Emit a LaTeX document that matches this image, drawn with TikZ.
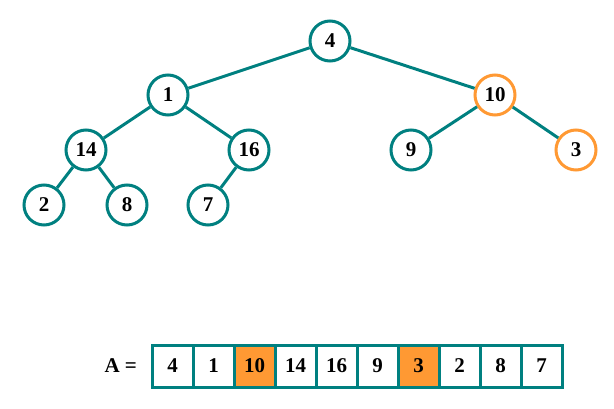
\documentclass[tikz,border=0pt]{standalone}
\usepackage{fontspec}
\setmainfont{Liberation Serif}
\usetikzlibrary{positioning}

\definecolor{heapteal}{RGB}{0,128,128}
\definecolor{heaporange}{RGB}{255,153,51}

\begin{document}
\begin{tikzpicture}[
    x=1pt, y=-1pt,
    font=\fontsize{21}{24}\selectfont\bfseries,
    key/.style={draw=heapteal, circle, line width=3pt, minimum size=40pt, inner sep=0pt, fill=white}, % Style for tree nodes
    hot/.style={draw=heaporange}, % Nodes being swapped
    cell/.style={draw=heapteal, line width=3pt, minimum width=41pt, minimum height=42pt, inner sep=0pt}, % Style for array cells
    edge/.style={heapteal, line width=3pt}
]
\useasboundingbox (0,0) rectangle (614,409);

% Tree nodes
\node[key] (n4) at (330,41) {4};
\node[key] (n1) at (168,95) {1};
\node[key, hot] (n10) at (495,95) {10};
\node[key] (n14) at (86,150) {14};
\node[key] (n16) at (249,150) {16};
\node[key] (n9) at (411,150) {9};
\node[key, hot] (n3) at (576,150) {3};
\node[key] (n2) at (44,205) {2};
\node[key] (n8) at (127,205) {8};
\node[key] (n7) at (208,205) {7};

% Edges
\draw[edge] (n4) -- (n1);
\draw[edge] (n4) -- (n10);
\draw[edge] (n1) -- (n14);
\draw[edge] (n1) -- (n16);
\draw[edge] (n10) -- (n9);
\draw[edge] (n10) -- (n3);
\draw[edge] (n14) -- (n2);
\draw[edge] (n14) -- (n8);
\draw[edge] (n16) -- (n7);

% Array, swapped entries filled orange
\foreach \v/\c [count=\i] in {4/white,1/white,10/heaporange,14/white,16/white,9/white,3/heaporange,2/white,8/white,7/white} {
    \node[cell, fill=\c] (c\i) at ({172.5+41*(\i-1)},366) {\v};
}

\node[left=10pt of c1] (lbl) {A =};

\end{tikzpicture}
\end{document}
